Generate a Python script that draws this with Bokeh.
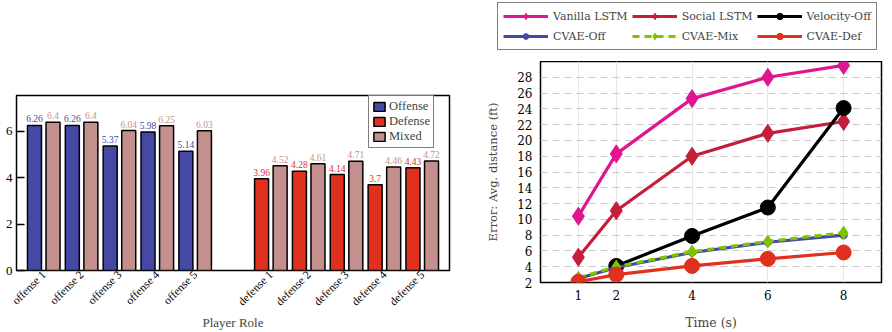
from bokeh.plotting import figure
from bokeh.models import (FixedTicker, Legend, LegendItem, ColumnDataSource, Range1d)
from bokeh.layouts import row, column
from bokeh.embed import file_html
from bokeh.resources import INLINE

# ---------------- data: left chart ----------------
offense_roles = ["offense 1", "offense 2", "offense 3", "offense 4", "offense 5"]
defense_roles = ["defense 1", "defense 2", "defense 3", "defense 4", "defense 5"]
offense_vals = [6.26, 6.26, 5.37, 5.98, 5.14]
offense_mixed = [6.4, 6.4, 6.04, 6.25, 6.03]
defense_vals = [3.96, 4.28, 4.14, 3.7, 4.43]
defense_mixed = [4.52, 4.61, 4.71, 4.46, 4.72]
left_yticks = [0, 2, 4, 6]

# ---------------- data: right chart ----------------
time_all = [1, 2, 4, 6, 8]
time_vel = [2, 4, 6, 8]
vanilla_lstm = [10.4, 18.3, 25.3, 28.0, 29.5]
social_lstm = [5.2, 11.1, 18.0, 20.9, 22.4]
velocity_off = [4.1, 7.9, 11.5, 24.1]
cvae_off = [2.5, 3.9, 5.8, 7.1, 8.0]
cvae_mix = [2.6, 4.0, 5.9, 7.2, 8.3]
cvae_def = [2.1, 3.0, 4.1, 5.0, 5.8]
right_xticks = [1, 2, 4, 6, 8]
right_yticks = [2, 4, 6, 8, 10, 12, 14, 16, 18, 20, 22, 24, 26, 28]

BLUE = "#4549a5"
RED = "#e0301e"
MIXED = "#c4908e"
SERIF = "Liberation Serif"
CM = "DejaVu Serif"

# ================= left figure =================
off_pos = list(range(len(offense_roles)))
def_pos = [len(offense_roles) + 1 + i for i in range(len(defense_roles))]

p1 = figure(width=465, height=332, output_backend="svg", toolbar_location=None,
            x_range=Range1d(-0.72, 10.72), y_range=Range1d(0, 7.55),
            min_border_left=16, min_border_right=16, min_border_top=95, min_border_bottom=62)
p1.outline_line_color = "black"
p1.outline_line_width = 1.5
p1.xgrid.visible = False
p1.ygrid.visible = False
p1.background_fill_color = "white"

w = 0.37
off = 0.245
r_off = p1.vbar(x=[x - off for x in off_pos], top=offense_vals, width=w, bottom=0,
                fill_color=BLUE, line_color="black", line_width=1.5)
r_def = p1.vbar(x=[x - off for x in def_pos], top=defense_vals, width=w, bottom=0,
                fill_color=RED, line_color="black", line_width=1.5)
r_mix = p1.vbar(x=[x + off for x in off_pos + def_pos], top=offense_mixed + defense_mixed,
                width=w, bottom=0, fill_color=MIXED, line_color="black", line_width=1.5)

def fmt(v):
    return ("%.2f" % v).rstrip("0").rstrip(".")

def add_labels(xs, ys, color):
    src = ColumnDataSource(dict(x=xs, y=ys, t=[fmt(v) for v in ys]))
    p1.text(x="x", y="y", text="t", source=src, text_align="center",
            text_baseline="bottom", y_offset=-3, text_color=color,
            text_font_size="9.5px", text_font={"value": SERIF})

add_labels([x - off for x in off_pos], offense_vals, BLUE)
add_labels([x + off for x in off_pos], offense_mixed, MIXED)
add_labels([x - off for x in def_pos], defense_vals, RED)
add_labels([x + off for x in def_pos], defense_mixed, MIXED)

xa = p1.xaxis[0]
xa.ticker = FixedTicker(ticks=off_pos + def_pos)
xa.major_label_overrides = {x: lab for x, lab in zip(off_pos + def_pos, offense_roles + defense_roles)}
xa.major_label_orientation = 0.785398
xa.major_tick_in = 0
xa.major_tick_out = 0
xa.minor_tick_line_color = None
xa.axis_line_color = None
xa.major_label_standoff = 2
xa.major_label_text_font = SERIF
xa.major_label_text_font_size = "11.5px"
xa.major_label_text_color = "black"
xa.axis_label = "Player Role"
xa.axis_label_text_font = SERIF
xa.axis_label_text_font_size = "13px"
xa.axis_label_text_font_style = "normal"
xa.axis_label_standoff = 0

ya = p1.yaxis[0]
ya.ticker = FixedTicker(ticks=left_yticks)
ya.major_tick_in = 8
ya.major_tick_out = 0
ya.major_tick_line_width = 1.5
ya.minor_tick_line_color = None
ya.axis_line_color = None
ya.major_label_standoff = 4
ya.major_label_text_font = SERIF
ya.major_label_text_font_size = "13px"
ya.major_label_text_color = "black"

leg1 = Legend(items=[LegendItem(label="Offense", renderers=[r_off]),
                     LegendItem(label="Defense", renderers=[r_def]),
                     LegendItem(label="Mixed", renderers=[r_mix])],
              location=(352, 122))
leg1.border_line_color = "black"
leg1.border_line_width = 1.5
leg1.padding = 3
leg1.spacing = 0
leg1.margin = 0
leg1.glyph_width = 14
leg1.glyph_height = 11
leg1.label_height = 12
leg1.label_standoff = 3
leg1.label_text_font = SERIF
leg1.label_text_font_size = "12.5px"
leg1.label_text_line_height = 1.0
p1.add_layout(leg1, "center")

# ================= right chart: line styles =================
styles = [
    ("Vanilla LSTM", time_all, vanilla_lstm, "#e0158f", None, "diamond", 18),
    ("Social LSTM", time_all, social_lstm, "#c41e3a", None, "diamond", 18),
    ("Velocity-Off", time_vel, velocity_off, "black", None, "circle", 15),
    ("CVAE-Off", time_all, cvae_off, BLUE, None, "asterisk", 8),
    ("CVAE-Mix", time_all, cvae_mix, "#7cc400", "7 5", "diamond", 13),
    ("CVAE-Def", time_all, cvae_def, RED, None, "circle", 15),
]
LW = 3.2

def draw_series(fig):
    items = []
    for name, xs, ys, col, dash, mk, sz in styles:
        kw = dict(line_color=col, line_width=LW)
        if dash:
            kw["line_dash"] = dash
        rl = fig.line(xs, ys, **kw)
        if mk == "asterisk":
            rm = fig.scatter(xs, ys, marker=mk, size=sz, line_color=col, line_width=3)
        else:
            rm = fig.scatter(xs, ys, marker=mk, size=sz, color=col)
        items.append(LegendItem(label=name, renderers=[rl, rm]))
    return items

# legend-only figure (its data are outside its visible ranges)
pl = figure(width=427, height=61, output_backend="svg", toolbar_location=None,
            x_range=Range1d(100, 101), y_range=Range1d(100, 101),
            x_axis_type=None, y_axis_type=None,
            min_border_left=0, min_border_right=0, min_border_top=0, min_border_bottom=0)
pl.outline_line_color = None
pl.xgrid.visible = False
pl.ygrid.visible = False
leg_items = draw_series(pl)
leg2 = Legend(items=leg_items, location=(32, 11), orientation="horizontal", ncols=3)
leg2.border_line_color = "black"
leg2.border_line_width = 1.2
leg2.padding = 5
leg2.spacing = 4
leg2.margin = 0
leg2.glyph_width = 45
leg2.glyph_height = 16
leg2.label_height = 16
leg2.label_standoff = 5
leg2.label_text_font = CM
leg2.label_text_font_size = "11px"
pl.add_layout(leg2, "center")

# ================= right figure =================
p2 = figure(width=427, height=271, output_backend="svg", toolbar_location=None,
            x_range=Range1d(0, 9), y_range=Range1d(2, 30),
            min_border_left=75, min_border_right=11, min_border_top=0, min_border_bottom=50)
p2.outline_line_color = "black"
p2.outline_line_width = 1.5
p2.background_fill_color = "white"
p2.ygrid.grid_line_color = "#c8c8c8"
p2.ygrid.grid_line_dash = "7 5"
p2.ygrid.grid_line_width = 1
p2.xgrid.grid_line_color = "#e6e6e6"
p2.xgrid.grid_line_width = 1
draw_series(p2)

xb = p2.xaxis[0]
xb.ticker = FixedTicker(ticks=right_xticks)
xb.major_tick_in = 0
xb.major_tick_out = 0
xb.minor_tick_line_color = None
xb.axis_line_color = None
xb.major_label_standoff = 7
xb.major_label_text_font = CM
xb.major_label_text_font_size = "12px"
xb.major_label_text_color = "black"
xb.axis_label = "Time (s)"
xb.axis_label_text_font = CM
xb.axis_label_text_font_size = "12.5px"
xb.axis_label_text_font_style = "normal"
xb.axis_label_standoff = 12

yb = p2.yaxis[0]
yb.ticker = FixedTicker(ticks=right_yticks)
yb.major_tick_in = 0
yb.major_tick_out = 0
yb.minor_tick_line_color = None
yb.axis_line_color = None
yb.major_label_standoff = 8
yb.major_label_text_font = CM
yb.major_label_text_font_size = "12px"
yb.major_label_text_color = "black"
yb.axis_label = "Error: Avg. distance (ft)"
yb.axis_label_text_font = CM
yb.axis_label_text_font_size = "11.5px"
yb.axis_label_text_font_style = "normal"
yb.axis_label_standoff = 14

layout = row(column(p1), column(column(pl), column(p2)))
open("out.html", "w").write(file_html(layout, INLINE))
